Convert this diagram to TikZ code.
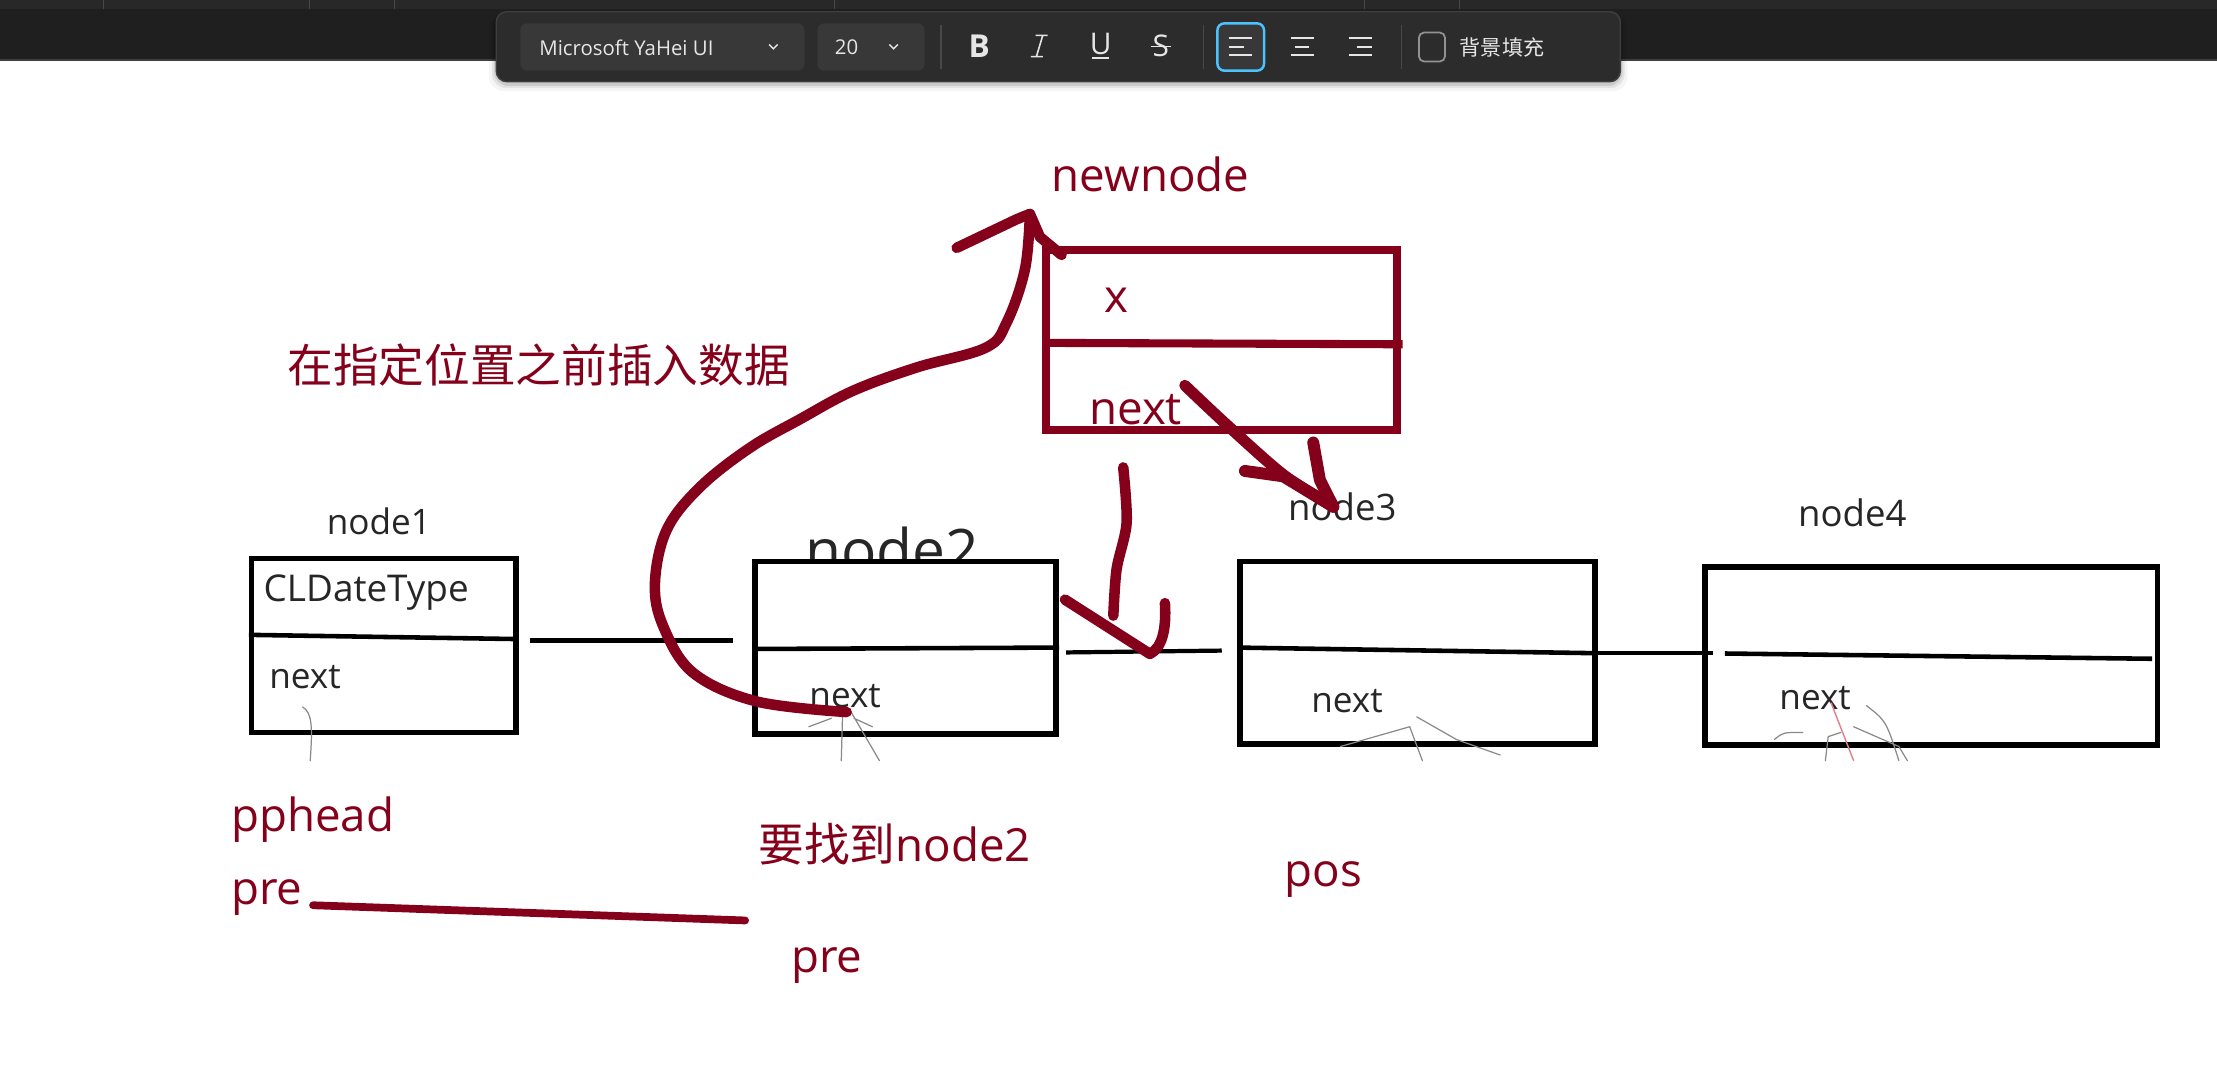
\documentclass[tikz,border=0pt]{standalone}
\usepackage{fontspec}
\setmainfont{Open Sans}
\newfontfamily\cjk{Noto Sans CJK SC}
\usetikzlibrary{positioning}
\definecolor{inkred}{HTML}{85001A}
\definecolor{topstrip}{HTML}{282828}
\definecolor{barbg}{HTML}{1F1F1F}
\definecolor{panelbg}{HTML}{2C2C2C}
\definecolor{panelline}{HTML}{3E3E3E}
\definecolor{dropbg}{HTML}{383838}
\definecolor{uitext}{HTML}{E6E6E6}
\definecolor{accent}{HTML}{4CC2FF}
\definecolor{sepgray}{HTML}{484848}
\definecolor{pencil}{HTML}{8A8A8A}
\definecolor{pinkink}{HTML}{E0808E}
\def\pxu{0.014139cm}

\begin{document}
\begin{tikzpicture}[x=0.014139cm, y=-0.014139cm,
  redlabel/.style={text=inkred, inner sep=0pt, font=\fontsize{13}{16}\selectfont},
  boxlabel/.style={text=black!85, inner sep=0pt, font=\fontsize{10}{12}\selectfont},
  uilabel/.style={text=uitext, inner sep=0pt, font=\fontsize{5.8}{7}\selectfont},
  listbox/.style={draw=black, line width=1.6pt, inner sep=0pt},
  newbox/.style={draw=inkred, line width=2.3pt, inner sep=0pt},
  divline/.style={black, line width=1.3pt},
  linkline/.style={black, line width=1.2pt},
  inkstroke/.style={inkred, line width=3pt, line cap=round, line join=round},
  pencilmark/.style={pencil, line width=0.35pt, line cap=round}]

% Page
\fill[white] (0,0) rectangle (1568,762);
\useasboundingbox (0,0) rectangle (1568,762);

% --- Window strip and floating text toolbar ---
\fill[topstrip] (0,0) rectangle (1568,6.4);
\fill[barbg] (0,6.4) rectangle (1568,42.4);
\draw[panelline, line width=0.6pt] (0,42.4) -- (1568,42.4);
\foreach \sx in {73,219,279,590,965,1032}
  \draw[sepgray, line width=0.3pt] (\sx,0) -- (\sx,6.4);

\foreach \s/\o in {5/0.04,3/0.07,1.5/0.1}
  \fill[black, opacity=\o, rounded corners=4pt] (351-\s,10) rectangle (1146+\s,57.8+\s+1.5);
\fill[panelbg, draw=panelline, line width=0.4pt, rounded corners=3pt] (351,8.3) rectangle (1146,57.8);

% font family and size
\fill[dropbg, rounded corners=2pt] (368,16.5) rectangle (569,50);
\node[uilabel, anchor=west] (fontname) at (381,33.5) {Microsoft YaHei UI};
\draw[uitext, line width=0.4pt] (544,31.5) -- (547,34.5) -- (550,31.5);
\fill[dropbg, rounded corners=2pt] (578,16.5) rectangle (654,50);
\node[uilabel, anchor=west] (fontsize) at (590,33.5) {20};
\draw[uitext, line width=0.4pt] (629,31.5) -- (632,34.5) -- (635,31.5);

\foreach \sx in {665.6,851,991}
  \draw[sepgray, line width=0.4pt] (\sx,18) -- (\sx,49);

% style buttons
\node[uilabel, font=\fontsize{9}{10}\selectfont\bfseries] (boldbtn) at (692.5,32.5) {B};
\draw[uitext, line width=0.45pt] (732.5,25) -- (741,25) (737.5,25) -- (733,40) (729,40) -- (737.5,40);
\node[uilabel, font=\fontsize{8.5}{10}\selectfont] (underbtn) at (778.5,31) {U};
\draw[uitext, line width=0.45pt] (772.5,41) -- (784.5,41);
\node[uilabel, font=\fontsize{8.5}{10}\selectfont] (strikebtn) at (821,32.5) {S};
\draw[uitext, line width=0.45pt] (814,33) -- (828,33);

% alignment buttons
\fill[dropbg, rounded corners=2pt] (861,16.5) rectangle (894,50);
\draw[accent, line width=0.7pt, rounded corners=2pt] (861,16.5) rectangle (894,50);
\draw[uitext, line width=0.5pt] (869.5,27) -- (885.5,27) (869.5,33) -- (880,33) (869.5,39) -- (885.5,39);
\draw[uitext, line width=0.5pt] (913,27) -- (929,27) (916,33) -- (926,33) (913,39) -- (929,39);
\draw[uitext, line width=0.5pt] (954,27) -- (970,27) (959.5,33) -- (970,33) (954,39) -- (970,39);

% background fill checkbox
\draw[uitext!55!panelbg, line width=0.5pt, rounded corners=1.5pt] (1003.5,23) rectangle (1022,43.5);
\node[uilabel, anchor=west, font=\fontsize{6}{7}\selectfont\cjk] (bgfill) at (1032,33.5) {背景填充};

% --- Task ---
\node[redlabel, font=\fontsize{13}{16}\selectfont\cjk] (title) at (381,258) {在指定位置之前插入数据};

% --- New node ---
\node[redlabel] (newlbl) at (813.8,123) {newnode};
\node[newbox, minimum width=248*\pxu, minimum height=127.5*\pxu] (newnode) at (864,240.3) {};
\draw[inkred, line width=2.3pt] (newnode.west |- 0,242.5) -- (992,243.5);
\node[redlabel] (xfield) at (789.7,212.7) {x};
\node[redlabel] (nextfield) at (803.2,289.5) {next};

% --- List nodes ---
\begin{scope}
\clip (500,300) rectangle (800,397);
\node[boxlabel, anchor=base, font=\fontsize{16.7}{19}\selectfont] (lbl2) at (631,404) {node2};
\end{scope}
\node[boxlabel] (lbl1) at (268,369) {node1};
\node[boxlabel, font=\fontsize{10.4}{12}\selectfont] (lbl3) at (949.3,358.4) {node3};
\node[boxlabel, font=\fontsize{10.4}{12}\selectfont] (lbl4) at (1310,363) {node4};

\node[listbox, minimum width=187*\pxu, minimum height=123*\pxu] (node1) at (271.5,456.5) {};
\node[listbox, minimum width=213*\pxu, minimum height=122*\pxu] (node2) at (640.5,458) {};
\node[listbox, minimum width=251*\pxu, minimum height=129*\pxu] (node3) at (1002.5,461.5) {};
\node[listbox, minimum width=320*\pxu, minimum height=126*\pxu] (node4) at (1366,464) {};

% dividers
\draw[divline] (node1.west |- 0,449) -- (node1.east |- 0,452);
\draw[divline] (node2.west |- 0,459) -- (node2.east |- 0,458);
\draw[divline] (node3.west |- 0,458) -- (node3.east |- 0,462);
\draw[divline, shorten <=6.4pt, shorten >=2.4pt] (node4.west |- 0,462) -- (node4.east |- 0,466);

% links
\draw[linkline, shorten <=3.2pt, shorten >=5.6pt] (node1.east |- 0,453) -- (node2.west |- 0,453);
\draw[linkline, shorten <=2pt, shorten >=4.4pt] (node2.east |- 0,461.5) -- (node3.west |- 0,460);
\draw[linkline, shorten >=-3pt] (node3.east |- 0,462) -- (node4.west |- 0,462);

% fields
\node[boxlabel, anchor=west, font=\fontsize{10.5}{12}\selectfont] (data1) at (186,419) {CLDateType};
\node[boxlabel, anchor=west] (next1) at (190,479) {next};
\node[boxlabel, anchor=west] (next2) at (572,492) {next};
\node[boxlabel, anchor=west] (next3) at (927,496) {next};
\node[boxlabel, anchor=west] (next4) at (1258,494) {next};

% pencil marks under the fields
\draw[pencilmark] (214,500) .. controls (221,504) and (221,515) .. (219.4,538);
\draw[pencilmark] (596,502) -- (595,538) (601,502) -- (622,538) (572,514) -- (588,508) (604,508) -- (617,514);
\draw[pencilmark] (948,528) -- (997,514) -- (1006,538) (1002,507) -- (1030,523) -- (1061,534);
\draw[pencilmark] (1255,523) .. controls (1261,518) .. (1275,518);
\draw[pencilmark] (1291,538) -- (1293,521) -- (1302,518);
\draw[pencilmark] (1311,514) -- (1343,528) -- (1349,538);
\draw[pencilmark] (1320,499) .. controls (1334,510) .. (1343,538);
\draw[pinkink, line width=0.4pt] (1295,497) -- (1311,538);

% --- Pointer names ---
\node[redlabel, anchor=west] (pphead) at (163,580) {pphead};
\node[redlabel, anchor=west] (pre1) at (163,635) {pre};
\node[redlabel, anchor=west] (findnode) at (536,597) {{\cjk 要找到}node2};
\node[redlabel, anchor=west] (pre2) at (559,683) {pre};
\node[redlabel, anchor=west] (pos) at (908,622) {pos};
\coordinate (preend) at (527,651);
\draw[inkred, line width=2.2pt, line cap=round, shorten <=2.8pt] (pre1.east |- 0,640) -- (preend);

% --- Ink arrows ---
% node2 next -> newnode
\coordinate (curvestart) at (598.8,503.6);
\coordinate (curvetip) at (728.4,151.3);
\draw[inkstroke] plot[smooth, tension=0.6] coordinates {(curvestart) (535.1,496.1)
  (490.3,475.9) (469.1,443.0) (463.2,412.7) (471.5,374.8) (495.1,344.5) (530.4,316.7)
  (565.8,296.5) (603.5,276.3) (648.3,259.9) (697,246) (712,228) (724.9,190.4) (curvetip)};
\draw[inkstroke] (676.6,175.3) -- (719,155.1) -- (curvetip) -- (735.5,167.6) -- (750.8,180.3);

% newnode next -> node3
\coordinate (nextout) at (838,272.6);
\coordinate (tonode3) at (943,358.4);
\draw[inkstroke, line width=3.2pt] plot[smooth] coordinates {(nextout) (867.5,300.3) (907.6,335.7) (tonode3)};
\draw[inkstroke, line width=3.4pt] (880.5,333.1) -- (907.6,336.9) -- (tonode3);
\draw[inkstroke, line width=3.4pt] (928.8,313) -- (933.5,339.5) -- (tonode3);

% newnode -> between node2 and node3
\coordinate (downstart) at (794.4,330.6);
\coordinate (downtip) at (813.3,462.5);
\draw[inkstroke, line width=3pt] plot[smooth] coordinates {(downstart) (796.8,369.8) (789.7,402.6) (787.4,435.4)};
\draw[inkstroke, line width=3pt] (753.2,424.1) -- (downtip);
\draw[inkstroke, line width=3pt] (823.9,426.6) .. controls (825,445) and (822,458) .. (downtip);

\end{tikzpicture}
\end{document}
